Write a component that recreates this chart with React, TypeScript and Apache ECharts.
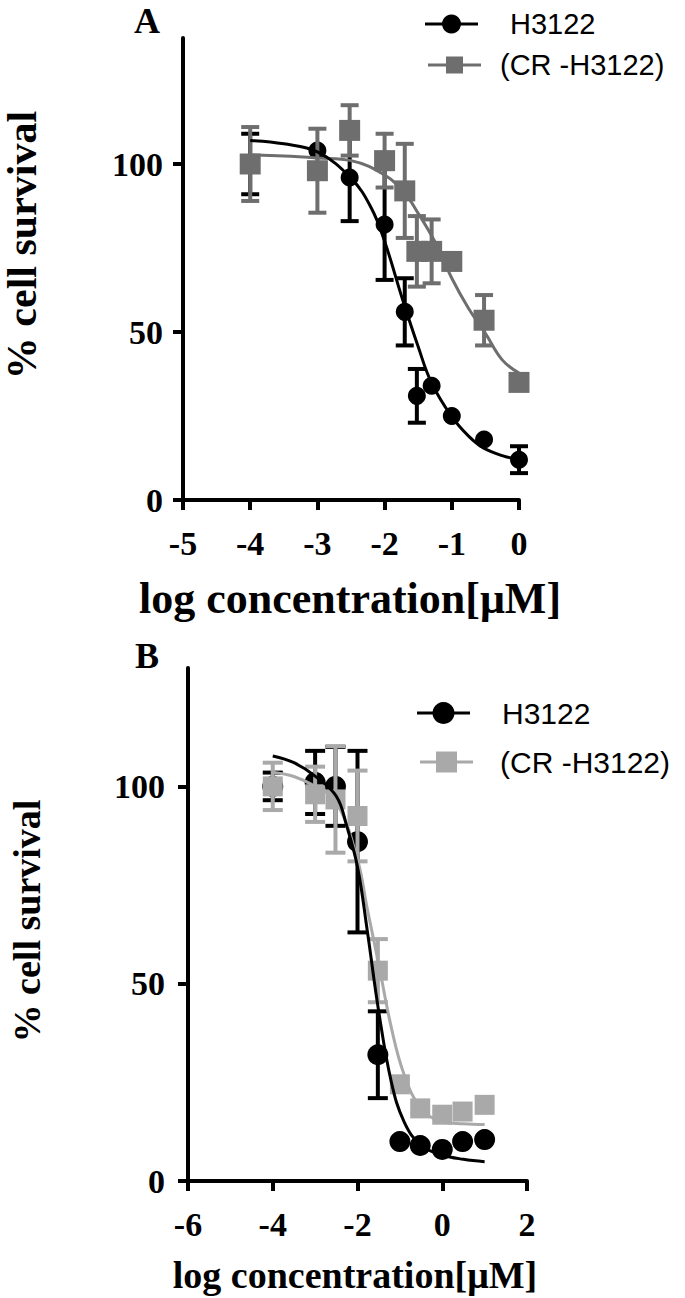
import React, { useEffect, useRef } from "react";
import * as echarts from "echarts";

// ---------- Panel A data ----------
const xA = [-4, -3, -2.52, -2, -1.7, -1.52, -1.3, -1, -0.52, 0];
const yA_H3122 = [100, 104, 96, 82, 56, 31, 34, 25, 18, 12];
const errA_H3122 = [9, 0, 13, 16.5, 10, 8, 0, 0, 0, 4];
const yA_CR = [100, 98, 110, 101, 92, 74, 74, 71, 53.5, 35];
const errA_CR = [11, 12.5, 7.5, 8, 14, 10.5, 9.5, 0, 7.5, 0];

const curveA_H3122_x = [-4, -3.5, -3, -2.5, -2.2, -2, -1.73, -1.5, -1.3, -1, -0.75, -0.53, -0.25, 0];
const curveA_H3122_y = [107, 106, 103.6, 95.8, 87, 77, 59.5, 45.6, 34.8, 24.8, 19, 15.5, 13.2, 12];
const curveA_CR_x = [-4, -3.5, -3, -2.5, -2, -1.7, -1.5, -1.25, -1, -0.75, -0.5, -0.25, 0];
const curveA_CR_y = [102.7, 102.4, 101.8, 101, 96.7, 91.3, 85.3, 76.8, 66, 57, 49.6, 41.7, 37.8];

// ---------- Panel B data ----------
const xB = [-4, -3, -2.52, -2, -1.52, -1, -0.52, 0, 0.48, 1];
const yB_H3122 = [100, 101, 100, 86, 32, 10, 9, 8, 10, 10.5];
const errB_H3122 = [3.5, 8, 10, 23, 11, 0, 0, 0, 0, 0];
const yB_CR = [100, 98, 96.7, 92.5, 53.3, 24.5, 18.4, 16.8, 17.6, 19.3];
const errB_CR = [6, 7, 13.5, 11.5, 8, 0, 0, 0, 0, 0];

const curveB_H3122_x = [-4, -3.5, -3, -2.5, -2.25, -2, -1.77, -1.5, -1.2, -0.9, -0.5, 0, 0.5, 1];
const curveB_H3122_y = [107.7, 106, 102.6, 97.5, 89.8, 79.6, 63.5, 43, 25, 15, 9, 6.6, 5.5, 4.9];
const curveB_CR_x = [-4, -3.5, -3, -2.5, -2, -1.77, -1.5, -1.2, -0.9, -0.5, 0, 0.5, 1];
const curveB_CR_y = [103.6, 102.5, 100, 96, 81.4, 69, 55, 38.8, 27, 18.4, 15, 14.5, 14.3];

const xTicksA = { min: -5, max: 0, interval: 1 };
const xTicksB = { min: -6, max: 2, interval: 2 };
const yTickValues = [0, 50, 100];

const seriesNames = ["H3122", "(CR -H3122)"];
const yTitle = "% cell survival";
const xTitle = "log concentration[\u03bcM]";

const BLACK = "#000000";
const GRAY_A = "#6e6e6e";
const GRAY_B = "#a9a9a9";
const SERIF = "'Liberation Serif', 'Times New Roman', serif";
const SANS = "'Liberation Sans', Arial, sans-serif";

const zip = (xs: number[], ys: number[]) => xs.map((x, i) => [x, ys[i]]);
const errData = (xs: number[], ys: number[], es: number[]) =>
  xs
    .map((x, i) => [x, ys[i] - es[i], ys[i] + es[i]])
    .filter((_, i) => es[i] > 0);

function errRender(capHalf: number, color: string, width: number) {
  return (params: any, api: any) => {
    const x = api.value(0);
    const lo = api.coord([x, api.value(1)]);
    const hi = api.coord([x, api.value(2)]);
    const style = { stroke: color, lineWidth: width };
    return {
      type: "group",
      children: [
        { type: "line", shape: { x1: lo[0], y1: lo[1], x2: hi[0], y2: hi[1] }, style },
        { type: "line", shape: { x1: lo[0] - capHalf, y1: lo[1], x2: lo[0] + capHalf, y2: lo[1] }, style },
        { type: "line", shape: { x1: hi[0] - capHalf, y1: hi[1], x2: hi[0] + capHalf, y2: hi[1] }, style },
      ],
    };
  };
}

function xAxisCfg(gridIndex: number, t: { min: number; max: number; interval: number }, fontSize: number) {
  return {
    type: "value",
    gridIndex,
    min: t.min,
    max: t.max,
    interval: t.interval,
    axisLine: { onZero: false, lineStyle: { color: BLACK, width: 4 } },
    axisTick: { show: true, length: 10, lineStyle: { color: BLACK, width: 4 } },
    axisLabel: { color: BLACK, fontFamily: SERIF, fontWeight: "bold", fontSize, margin: 26 },
    splitLine: { show: false },
  };
}

function yAxisCfg(gridIndex: number, max: number, fontSize: number, margin: number) {
  return {
    type: "value",
    gridIndex,
    min: 0,
    max,
    interval: 50,
    axisLine: { show: true, onZero: false, lineStyle: { color: BLACK, width: 4 } },
    axisTick: { show: true, length: 10, customValues: yTickValues, lineStyle: { color: BLACK, width: 4 } },
    axisLabel: { color: BLACK, fontFamily: SERIF, fontWeight: "bold", fontSize, margin, customValues: yTickValues },
    splitLine: { show: false },
  };
}

function panelSeries(
  idx: number,
  xs: number[],
  yH: number[],
  eH: number[],
  yC: number[],
  eC: number[],
  cHx: number[],
  cHy: number[],
  cCx: number[],
  cCy: number[],
  gray: string,
  circleSize: number,
  rectSize: number,
  capHalf: number
) {
  const common = { xAxisIndex: idx, yAxisIndex: idx, silent: true };
  return [
    {
      ...common,
      type: "custom",
      name: seriesNames[0] + " err",
      z: 2,
      renderItem: errRender(capHalf, BLACK, 4),
      encode: { x: 0, y: [1, 2] },
      data: errData(xs, yH, eH),
    },
    {
      ...common,
      type: "scatter",
      name: seriesNames[0],
      z: 3,
      symbol: "circle",
      symbolSize: circleSize,
      itemStyle: { color: BLACK, opacity: 1 },
      data: zip(xs, yH),
    },
    {
      ...common,
      type: "custom",
      name: seriesNames[1] + " err",
      z: 4,
      renderItem: errRender(capHalf, gray, 4),
      encode: { x: 0, y: [1, 2] },
      data: errData(xs, yC, eC),
    },
    {
      ...common,
      type: "scatter",
      name: seriesNames[1],
      z: 5,
      symbol: "rect",
      symbolSize: rectSize,
      itemStyle: { color: gray, opacity: 1 },
      data: zip(xs, yC),
    },
    {
      ...common,
      type: "line",
      name: seriesNames[1] + " fit",
      z: 6,
      symbol: "none",
      showSymbol: false,
      smooth: 0.4,
      lineStyle: { color: gray, width: 3 },
      data: zip(cCx, cCy),
    },
    {
      ...common,
      type: "line",
      name: seriesNames[0] + " fit",
      z: 7,
      symbol: "none",
      showSymbol: false,
      smooth: 0.4,
      lineStyle: { color: BLACK, width: 3 },
      data: zip(cHx, cHy),
    },
  ];
}

function legendGraphics(y1: number, y2: number, lx: number, gray: string, r: number, sq: number, fs: number, tx1: number, tx2: number) {
  return [
    { type: "line", shape: { x1: lx, y1, x2: lx + 53, y2: y1 }, style: { stroke: BLACK, lineWidth: 3 } },
    { type: "circle", shape: { cx: lx + 26.5, cy: y1, r }, style: { fill: BLACK } },
    { type: "text", x: tx1, y: y1, style: { text: seriesNames[0], font: `${fs}px ${SANS}`, fill: BLACK, textVerticalAlign: "middle" } },
    { type: "line", shape: { x1: lx + 3, y1: y2, x2: lx + 56, y2: y2 }, style: { stroke: gray, lineWidth: 3 } },
    { type: "rect", shape: { x: lx + 29.5 - sq / 2, y: y2 - sq / 2, width: sq, height: sq }, style: { fill: gray } },
    { type: "text", x: tx2, y: y2, style: { text: seriesNames[1], font: `${fs}px ${SANS}`, fill: BLACK, textVerticalAlign: "middle" } },
  ];
}

export default function App() {
  const ref = useRef<HTMLDivElement>(null);
  useEffect(() => {
    if (!ref.current) return;
    const chart = echarts.init(ref.current, null, { renderer: "svg" });
    const option: any = {
      animation: false,
      backgroundColor: "#ffffff",
      grid: [
        { left: 183, right: 166, top: 38, bottom: 798 },
        { left: 188, right: 158, top: 668, bottom: 117 },
      ],
      xAxis: [xAxisCfg(0, xTicksA, 34), xAxisCfg(1, xTicksB, 34)],
      yAxis: [yAxisCfg(0, 137.5, 34, 20), yAxisCfg(1, 130, 34, 23)],
      series: [
        ...panelSeries(0, xA, yA_H3122, errA_H3122, yA_CR, errA_CR, curveA_H3122_x, curveA_H3122_y, curveA_CR_x, curveA_CR_y, GRAY_A, 18, 21, 9),
        ...panelSeries(1, xB, yB_H3122, errB_H3122, yB_CR, errB_CR, curveB_H3122_x, curveB_H3122_y, curveB_CR_x, curveB_CR_y, GRAY_B, 21, 20, 10),
      ],
      graphic: [
        { type: "text", x: 147, y: 21, style: { text: "A", font: `bold 36px ${SERIF}`, fill: BLACK, textAlign: "center", textVerticalAlign: "middle" } },
        { type: "text", x: 147, y: 656, style: { text: "B", font: `bold 36px ${SERIF}`, fill: BLACK, textAlign: "center", textVerticalAlign: "middle" } },
        { type: "text", x: 22, y: 245, rotation: Math.PI / 2, style: { text: yTitle, font: `bold 42px ${SERIF}`, fill: BLACK, textAlign: "center", textVerticalAlign: "middle" } },
        { type: "text", x: 27, y: 921, rotation: Math.PI / 2, style: { text: yTitle, font: `bold 38px ${SERIF}`, fill: BLACK, textAlign: "center", textVerticalAlign: "middle" } },
        { type: "text", x: 350, y: 598, style: { text: xTitle, font: `bold 44px ${SERIF}`, fill: BLACK, textAlign: "center", textVerticalAlign: "middle" } },
        { type: "text", x: 355, y: 1275, style: { text: xTitle, font: `bold 38px ${SERIF}`, fill: BLACK, textAlign: "center", textVerticalAlign: "middle" } },
        ...legendGraphics(24, 65, 425, GRAY_A, 9.5, 17, 29, 510, 500),
        ...legendGraphics(713, 762, 417, GRAY_B, 11, 21, 30, 502, 500),
      ],
    };
    chart.setOption(option);
    return () => chart.dispose();
  }, []);
  return <div ref={ref} style={{ position: "absolute", left: 0, top: 0, width: 685, height: 1298 }} />;
}
